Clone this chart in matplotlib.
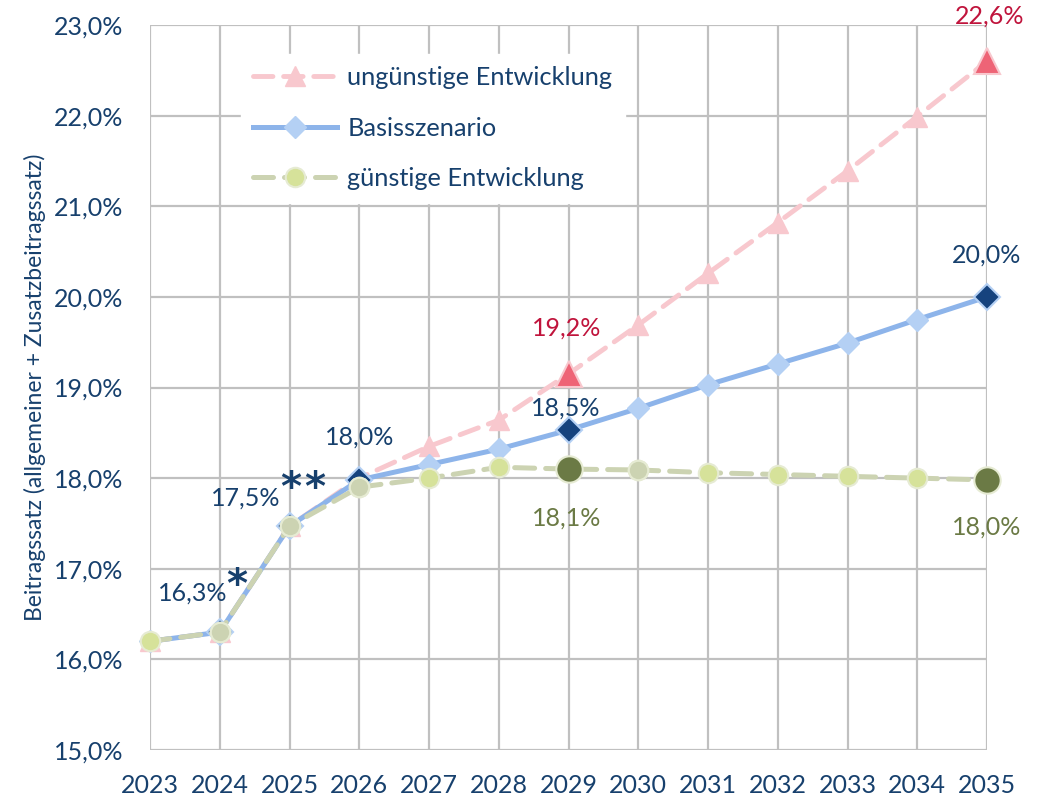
import matplotlib
matplotlib.use('Agg')
import matplotlib.pyplot as plt
from matplotlib.ticker import FuncFormatter, MultipleLocator

# Daten
jahre = [2023, 2024, 2025, 2026, 2027, 2028, 2029, 2030, 2031, 2032, 2033, 2034, 2035]
unguenstig = [16.2, 16.3, 17.47, 18.0, 18.35, 18.64, 19.15, 19.69, 20.26, 20.82, 21.39, 21.99, 22.6]
basis = [16.2, 16.3, 17.47, 17.98, 18.15, 18.32, 18.53, 18.77, 19.03, 19.26, 19.49, 19.75, 20.0]
guenstig = [16.2, 16.3, 17.47, 17.9, 18.0, 18.12, 18.1, 18.09, 18.06, 18.04, 18.02, 18.0, 17.98]

# hervorgehobene Punkte (Index in jahre)
hl_unguenstig = [6, 12]
hl_basis = [1, 2, 3, 6, 12]
hl_guenstig = [6, 12]

# Beschriftungen: (Index, Reihe, Text, Farbe, dx px, dy px)
NAVY = '#17406d'
ROT = '#c0143c'
OLIV = '#6b7a45'
beschriftungen = [
    (1, 'basis', '16,3%', NAVY, -27, 39),
    (2, 'basis', '17,5%', NAVY, -44, 28),
    (3, 'basis', '18,0%', NAVY, 0, 43),
    (6, 'basis', '18,5%', NAVY, -3, 22),
    (6, 'ung', '19,2%', ROT, -2, 46),
    (6, 'gue', '18,1%', OLIV, -2, -49),
    (12, 'ung', '22,6%', ROT, 3, 45),
    (12, 'basis', '20,0%', NAVY, 0, 42),
    (12, 'gue', '18,0%', OLIV, 0, -47),
]
# Sternchen: (Index, dx px, dy px)
sterne = [(1, 17, 46), (2, 1, 37), (2, 25, 37)]

plt.rcParams['font.family'] = ['Lato', 'DejaVu Sans']

fig = plt.figure(figsize=(10.45, 7.98), dpi=100)
ax = fig.add_axes([150/1045, 1-750/798, 837/1045, 725/798])

# ungünstige Entwicklung
ax.plot(jahre, unguenstig, color='#f8c8ce', lw=3.5, ls=(0, (4, 2.2)), dash_capstyle='round',
        marker='^', ms=14, mfc='#f8c8ce', mec='#f8c8ce', zorder=3, clip_on=False, label='ungünstige Entwicklung')
ax.plot([jahre[i] for i in hl_unguenstig], [unguenstig[i] for i in hl_unguenstig], ls='none',
        marker='^', ms=19, mfc='#ee6476', mec='#f8c8ce', mew=1.5, zorder=3, clip_on=False)

# Basisszenario
ax.plot(jahre, basis, color='#8db4ea', lw=3.6, marker='D', ms=11.5, mfc='#b4d0f4',
        mec='#b4d0f4', zorder=4, clip_on=False, label='Basisszenario')
ax.plot([jahre[i] for i in hl_basis], [basis[i] for i in hl_basis], ls='none',
        marker='D', ms=13, mfc='#16437e', mec='#b4d0f4', mew=1.5, zorder=4, clip_on=False)

# günstige Entwicklung
ax.plot(jahre, guenstig, color='#ccd3b2', lw=3.6, ls=(0, (4, 2.2)), dash_capstyle='round',
        marker='o', ms=14, mfc='#d6e29a', mec='#e6ebd3', mew=1.5, zorder=5, clip_on=False,
        label='günstige Entwicklung')
ax.plot([jahre[i] for i in [1, 2, 3, 7]], [guenstig[i] for i in [1, 2, 3, 7]], ls='none',
        marker='o', ms=14, mfc='#ccd3b2', mec='#e6ebd3', mew=1.5, zorder=5)
ax.plot([jahre[i] for i in hl_guenstig], [guenstig[i] for i in hl_guenstig], ls='none',
        marker='o', ms=19, mfc='#6b7a45', mec='#e6ebd3', mew=1.5, zorder=5, clip_on=False)

reihen = {'basis': basis, 'ung': unguenstig, 'gue': guenstig}
for i, r, txt, col, dx, dy in beschriftungen:
    ax.annotate(txt, (jahre[i], reihen[r][i]), xytext=(dx*0.72, dy*0.72), textcoords='offset points',
                ha='center', va='center', fontsize=18, color=col, zorder=6, annotation_clip=False)

for i, dx, dy in sterne:
    ax.annotate('*', (jahre[i], basis[i]), xytext=(dx*0.72, dy*0.72), textcoords='offset points',
                ha='center', va='center', fontsize=29, fontweight='bold', color=NAVY, zorder=6,
                family='DejaVu Sans')

ax.set_xlim(2023, 2035)
ax.set_ylim(15, 23)
ax.set_xticks(jahre)
ax.yaxis.set_major_locator(MultipleLocator(1))
ax.yaxis.set_major_formatter(FuncFormatter(lambda v, p: ('%.1f%%' % v).replace('.', ',')))
ax.grid(True, color='#c0c0c0', lw=1.6, zorder=0)
ax.set_axisbelow(True)
for s in ax.spines.values():
    s.set_visible(False)
ax.tick_params(length=0, labelsize=18, labelcolor=NAVY)
ax.tick_params(axis='y', pad=19)
ax.tick_params(axis='x', pad=17)
ax.set_ylabel('Beitragssatz (allgemeiner + Zusatzbeitragssatz)', fontsize=16.5, color=NAVY, labelpad=6)

leg = ax.legend(loc='upper left', bbox_to_anchor=(0.093, 0.978), frameon=True, fontsize=18.3,
                handlelength=3.3, labelspacing=1.08, borderpad=0.5, handletextpad=0.4)
leg.get_frame().set_edgecolor('white')
leg.get_frame().set_facecolor('white')
leg.get_frame().set_alpha(1)
leg.get_frame().set_boxstyle('square', pad=0)
for t in leg.get_texts():
    t.set_color(NAVY)

fig.savefig('out.png', dpi=100)
